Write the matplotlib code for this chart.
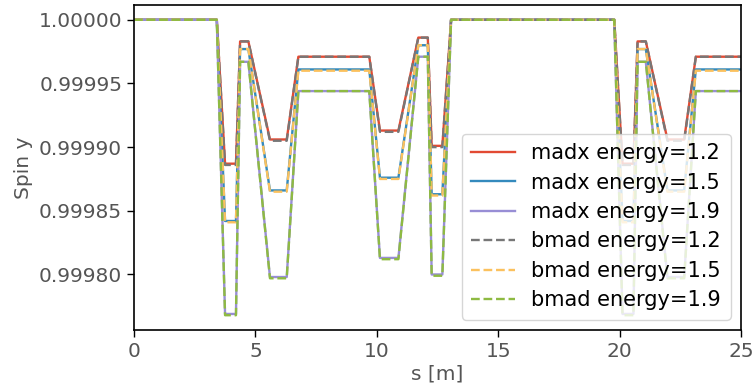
import matplotlib

matplotlib.use("Agg")

import matplotlib.pyplot as plt

# element boundaries along the line [m]
S = [0, 3.41, 3.75, 4.2, 4.37, 4.71, 5.6, 6.29, 6.77, 9.69, 10.13, 10.89, 11.71, 12.1,
     12.26, 12.7, 13.06, 19.78, 20.12, 20.57, 20.74, 21.08, 21.97, 22.66, 23.14, 25]

MADX_12 = [1.0, 1.0, 0.999887, 0.999887, 0.999983, 0.999983, 0.999906, 0.999906, 0.999971,
           0.999971, 0.999913, 0.999913, 0.999986, 0.999986, 0.999901, 0.999901, 1.0, 1.0,
           0.999887, 0.999887, 0.999983, 0.999983, 0.999906, 0.999906, 0.999971, 0.999971]
MADX_15 = [1.0, 1.0, 0.999842, 0.999842, 0.999977, 0.999977, 0.999866, 0.999866, 0.999961,
           0.999961, 0.999876, 0.999876, 0.999980, 0.999980, 0.999863, 0.999863, 1.0, 1.0,
           0.999842, 0.999842, 0.999977, 0.999977, 0.999866, 0.999866, 0.999961, 0.999961]
MADX_19 = [1.0, 1.0, 0.999769, 0.999769, 0.999967, 0.999967, 0.999798, 0.999798, 0.999944,
           0.999944, 0.999813, 0.999813, 0.999971, 0.999971, 0.999800, 0.999800, 1.0, 1.0,
           0.999769, 0.999769, 0.999967, 0.999967, 0.999798, 0.999798, 0.999944, 0.999944]

BMAD_12 = [1.0, 1.0, 0.999886, 0.999886, 0.999983, 0.999983, 0.999905, 0.999905, 0.999971,
           0.999971, 0.999912, 0.999912, 0.999986, 0.999986, 0.999900, 0.999900, 1.0, 1.0,
           0.999886, 0.999886, 0.999983, 0.999983, 0.999905, 0.999905, 0.999971, 0.999971]
BMAD_15 = [1.0, 1.0, 0.999841, 0.999841, 0.999977, 0.999977, 0.999865, 0.999865, 0.999960,
           0.999960, 0.999875, 0.999875, 0.999980, 0.999980, 0.999862, 0.999862, 1.0, 1.0,
           0.999841, 0.999841, 0.999977, 0.999977, 0.999865, 0.999865, 0.999960, 0.999960]
BMAD_19 = [1.0, 1.0, 0.999768, 0.999768, 0.999967, 0.999967, 0.999797, 0.999797, 0.999944,
           0.999944, 0.999812, 0.999812, 0.999971, 0.999971, 0.999799, 0.999799, 1.0, 1.0,
           0.999768, 0.999768, 0.999967, 0.999967, 0.999797, 0.999797, 0.999944, 0.999944]

ENERGIES = [1.2, 1.5, 1.9]
MADX_COLORS = ["#E24A33", "#348ABD", "#988ED5"]
BMAD_COLORS = ["#777777", "#FBC15E", "#8EBA42"]

fig = plt.figure(figsize=(7.53, 3.89), dpi=100)
ax = fig.add_axes([134 / 753, 1 - 330 / 389, 607 / 753, 325 / 389])

for e, y, c in zip(ENERGIES, [MADX_12, MADX_15, MADX_19], MADX_COLORS):
    ax.plot(S, y, color=c, lw=1.7, label=f"madx energy={e}")
for e, y, c in zip(ENERGIES, [BMAD_12, BMAD_15, BMAD_19], BMAD_COLORS):
    ax.plot(S, y, color=c, lw=1.7, ls="--", label=f"bmad energy={e}")

ax.set_xlim(0, 25)
ax.set_xticks([0, 5, 10, 15, 20, 25])
ax.set_yticks([0.9998, 0.99985, 0.9999, 0.99995, 1.0])
ax.set_yticklabels(["0.99980", "0.99985", "0.99990", "0.99995", "1.00000"])
ax.tick_params(labelsize=14.5, labelcolor="#555555", length=5, width=1)
for sp in ax.spines.values():
    sp.set_linewidth(1.2)
ax.set_xlabel("s [m]", fontsize=14.5, color="#555555", labelpad=3)
ax.set_ylabel("Spin y", fontsize=14.5, color="#555555", labelpad=4)
ax.legend(loc="lower right", fontsize=15, handlelength=2.1, labelspacing=0.45,
          borderpad=0.45, handletextpad=0.8)

fig.savefig("out.png", dpi=100)
